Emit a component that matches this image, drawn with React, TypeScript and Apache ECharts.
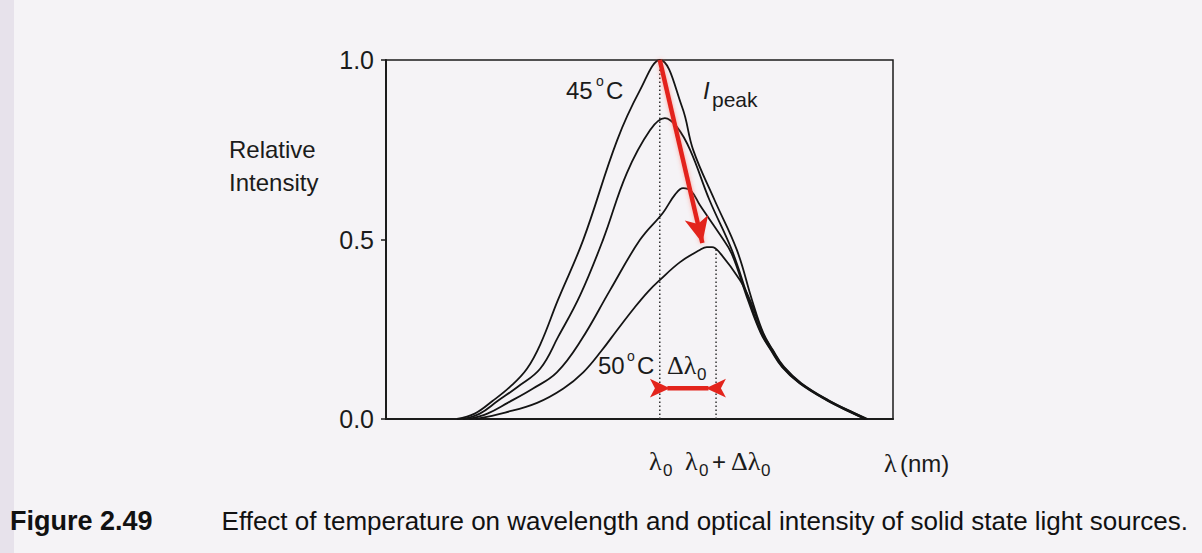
import React, { useEffect, useRef } from "react";
import * as echarts from "echarts";

// ---------- data (x: relative wavelength units 0..100, y: relative intensity) ----------
const yTickStep = 0.5;
const curve45C: number[][] = [
  [14.0, 0], [17.5, 0.015], [21.0, 0.05], [24.5, 0.09], [27.8, 0.14], [30.5, 0.21],
  [33.9, 0.331], [38.9, 0.499], [45.6, 0.777], [50.1, 0.916], [54.0, 1.0], [58.4, 0.869],
  [60.6, 0.749], [64.8, 0.61], [69.2, 0.471], [72.2, 0.331], [74.4, 0.24], [76.3, 0.192],
  [78.5, 0.145], [81.9, 0.1], [87.2, 0.053], [92.3, 0.017], [95.0, 0],
];
const curveB: number[][] = [
  [15.2, 0], [18.5, 0.015], [22.0, 0.05], [26.0, 0.09], [30.4, 0.14], [34.0, 0.23],
  [38.3, 0.345], [42.8, 0.499], [47.5, 0.685], [52.1, 0.805], [55.0, 0.838], [57.4, 0.813],
  [60.0, 0.749], [63.8, 0.61], [68.2, 0.471], [71.6, 0.331], [74.0, 0.24], [76.0, 0.192],
  [78.2, 0.145], [81.6, 0.1], [86.9, 0.053], [92.0, 0.017], [94.6, 0],
];
const curveC: number[][] = [
  [16.4, 0], [20.0, 0.015], [24.0, 0.045], [29.0, 0.085], [33.7, 0.13], [38.5, 0.22],
  [44.2, 0.359], [50.1, 0.499], [54.6, 0.574], [57.0, 0.625], [58.6, 0.643], [60.2, 0.635],
  [61.9, 0.596], [65.9, 0.513], [68.2, 0.46], [71.4, 0.331], [73.9, 0.24], [75.9, 0.192],
  [78.1, 0.145], [81.5, 0.1], [86.8, 0.053], [91.9, 0.017], [94.5, 0],
];
const curve50C: number[][] = [
  [17.7, 0], [23.5, 0.018], [29.8, 0.045], [35.0, 0.085], [38.9, 0.13], [42.5, 0.19],
  [45.6, 0.248], [49.0, 0.31], [51.7, 0.355], [54.0, 0.387], [58.0, 0.437], [61.9, 0.471],
  [63.3, 0.479], [64.3, 0.479], [65.9, 0.462], [69.8, 0.387], [71.8, 0.331], [74.3, 0.24],
  [76.2, 0.192], [78.4, 0.145], [81.8, 0.1], [87.1, 0.053], [92.2, 0.017], [94.8, 0],
];
const lambda0 = 54.0;
const lambdaShifted = 65.1;
const peak45 = 1.0;
const peak50 = 0.479;
const peakArrowFrom = [54.0, 1.0];
const peakArrowTo = [62.4, 0.49];
const deltaArrowY = 0.086;

const captionLabel = "Figure 2.49";
const captionText = "Effect of temperature on wavelength and optical intensity of solid state light sources.";

// ---------- layout ----------
const W = 1202;
const H = 553;
const GRID = { left: 386, top: 60, width: 507, height: 359 };
const INK = "#1b1b1b";
const RED = "#e3241c";
const SANS = '"Liberation Sans", Arial, Helvetica, sans-serif';
const SERIF = '"Liberation Serif", "Times New Roman", serif';
const XL = 461; // x-axis label row (centre)

function txt(text: string, x: number, y: number, size: number, opt: any = {}) {
  return {
    type: "text",
    x,
    y,
    z: 50,
    silent: true,
    style: {
      text,
      fill: opt.fill || INK,
      font: `${opt.italic ? "italic " : ""}${opt.bold ? "bold " : ""}${size}px ${opt.family || SANS}`,
      align: opt.align || "left",
      verticalAlign: "middle",
    },
  };
}

export default function App() {
  const ref = useRef<HTMLDivElement>(null);
  useEffect(() => {
    document.body.style.margin = "0";
    if (!ref.current) return;
    const chart = echarts.init(ref.current, undefined, { renderer: "svg" });

    const curveSeries = [curve45C, curveB, curveC, curve50C].map((d, i) => ({
      type: "line",
      name: "curve" + i,
      data: d,
      smooth: 0.4,
      showSymbol: false,
      symbol: "none",
      z: 5,
      lineStyle: { color: "#141414", width: 1.8 },
    }));

    const headInset = 2.0; // arrow head centre offset from the dotted line (x units)

    const labels = [
      txt("Relative", 229, 149, 24),
      txt("Intensity", 229, 182, 24),
      txt("45", 566, 90, 24),
      txt("o", 596, 81, 14),
      txt("C", 606, 90, 24),
      txt("I", 703, 90, 24, { italic: true }),
      txt("peak", 712, 99, 21),
      txt("50", 598, 365, 24),
      txt("o", 627, 356, 14),
      txt("C", 637, 365, 24),
      txt("Δλ", 667, 365, 26, { family: SERIF }),
      txt("0", 697, 374, 17),
      txt("λ", 649, XL, 26, { family: SERIF }),
      txt("0", 663, XL + 9, 17),
      txt("λ", 685, XL, 26, { family: SERIF }),
      txt("0", 699, XL + 9, 17),
      txt("+", 712, XL, 24),
      txt("Δλ", 731, XL, 26, { family: SERIF }),
      txt("0", 761, XL + 9, 17),
      txt("λ", 884, XL + 2, 26, { family: SERIF }),
      txt("(nm)", 900, XL + 2, 24),
      txt(captionLabel, 10, 521, 27, { bold: true, fill: "#111" }),
      txt(captionText, 1188, 521, 26, { align: "right", fill: "#111" }),
    ];

    chart.setOption({
      animation: false,
      backgroundColor: "#f5f3f6",
      grid: {
        left: GRID.left,
        top: GRID.top,
        width: GRID.width,
        height: GRID.height,
        show: true,
        borderColor: INK,
        borderWidth: 1.5,
        backgroundColor: "transparent",
      },
      xAxis: {
        type: "value",
        min: 0,
        max: 100,
        axisLine: { show: true, lineStyle: { color: INK, width: 2 } },
        axisTick: { show: false },
        axisLabel: { show: false },
        splitLine: { show: false },
      },
      yAxis: {
        type: "value",
        min: 0,
        max: 1,
        interval: yTickStep,
        axisLine: { show: true, lineStyle: { color: INK, width: 2 } },
        axisTick: { show: true, length: 5, lineStyle: { color: INK, width: 1.5 } },
        axisLabel: {
          fontSize: 25,
          color: INK,
          fontFamily: SANS,
          margin: 12,
          formatter: (v: number) => v.toFixed(1),
        },
        splitLine: { show: false },
      },
      series: [
        ...curveSeries,
        {
          type: "line",
          name: "lambda0",
          data: [[lambda0, 0], [lambda0, peak45]],
          showSymbol: false,
          symbol: "none",
          z: 4,
          lineStyle: { color: "#333", width: 1.5, type: [1.5, 2.5] },
        },
        {
          type: "line",
          name: "lambdaShift",
          data: [[lambdaShifted, 0], [lambdaShifted, peak50]],
          showSymbol: false,
          symbol: "none",
          z: 4,
          lineStyle: { color: "#333", width: 1.5, type: [1.5, 2.5] },
          markLine: {
            silent: true,
            animation: false,
            label: { show: false },
            z: 10,
            lineStyle: {
              color: RED,
              width: 4.5,
              type: "solid",
              shadowBlur: 4,
              shadowColor: "rgba(255,90,70,0.5)",
            },
            data: [
              [
                { coord: peakArrowFrom, symbol: "none" },
                { coord: peakArrowTo, symbol: "arrow", symbolSize: [18, 26] },
              ],
            ],
          },
        },
        {
          type: "line",
          name: "deltaShaft",
          data: [[lambda0 + 1.5, deltaArrowY], [lambdaShifted - 1.5, deltaArrowY]],
          showSymbol: false,
          symbol: "none",
          z: 10,
          lineStyle: { color: RED, width: 4.5 },
        },
        {
          type: "scatter",
          name: "deltaHeadLeft",
          data: [[lambda0 + headInset, deltaArrowY]],
          symbol: "arrow",
          symbolSize: [14, 20],
          symbolRotate: -90,
          z: 11,
          itemStyle: { color: RED, opacity: 1 },
        },
        {
          type: "scatter",
          name: "deltaHeadRight",
          data: [[lambdaShifted - headInset, deltaArrowY]],
          symbol: "arrow",
          symbolSize: [14, 20],
          symbolRotate: 90,
          z: 11,
          itemStyle: { color: RED, opacity: 1 },
        },
      ],
      graphic: [
        { type: "rect", shape: { x: 0, y: 0, width: 14, height: H }, z: 0, silent: true, style: { fill: "rgba(200,188,210,0.3)" } },
        ...labels,
      ],
    });
    return () => chart.dispose();
  }, []);
  return (
    <div
      ref={ref}
      style={{ position: "absolute", left: 0, top: 0, width: W, height: H }}
    />
  );
}
